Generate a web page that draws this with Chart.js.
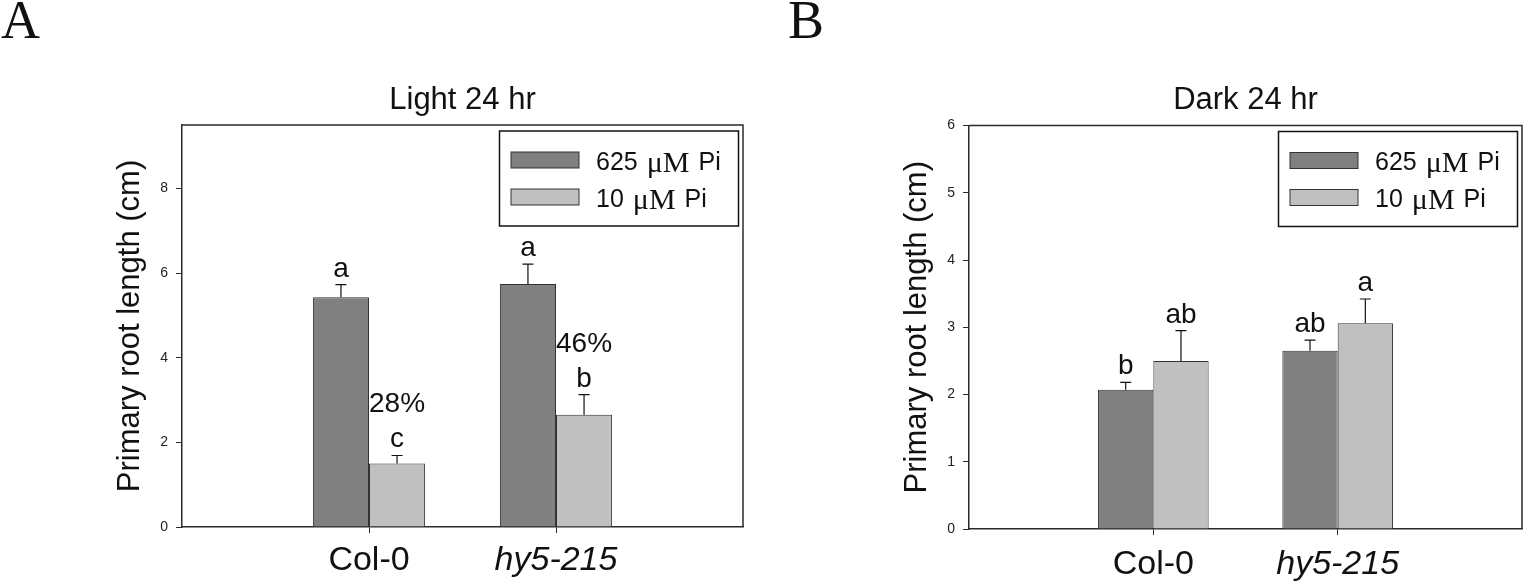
<!DOCTYPE html>
<html>
<head>
<meta charset="utf-8">
<title>Primary root length</title>
<script src="https://cdn.jsdelivr.net/npm/chart.js@4.4.1/dist/chart.umd.min.js"></script>
<style>
  html, body { margin: 0; padding: 0; background: #fff; width: 1535px; height: 586px; overflow: hidden; }
  .panel { position: absolute; top: 0; height: 586px; }
  #wrapA { left: 0; width: 767px; }
  #wrapB { left: 767px; width: 768px; }
  .tag { position: absolute; top: -7px; font-family: "Liberation Serif", "Times New Roman", serif; font-size: 54px; line-height: 54px; color: #111; }
</style>
</head>
<body>
<div class="panel" id="wrapA"><canvas id="chartA"></canvas></div>
<div class="panel" id="wrapB"><canvas id="chartB"></canvas></div>
<div class="tag" style="left:1px">A</div>
<div class="tag" style="left:788px">B</div>

<script>
// categories (empty slots at both ends keep the groups at 1/3 and 2/3)
const categories = ['', 'Col-0', 'hy5-215', ''];
const seriesNames = ['625 \u03BCM Pi', '10 \u03BCM Pi'];

// Light 24 hr
const light625 = [null, 5.43, 5.74, null];
const light625Err = [null, 0.30, 0.47, null];
const light10 = [null, 1.50, 2.65, null];
const light10Err = [null, 0.19, 0.48, null];
const light625Letters = ['', 'a', 'a', ''];
const light10Letters = ['', 'c', 'b', ''];
const light10Percent = ['', '28%', '46%', ''];
const lightTicks = [0, 2, 4, 6, 8];

// Dark 24 hr
const dark625 = [null, 2.07, 2.65, null];
const dark625Err = [null, 0.11, 0.16, null];
const dark10 = [null, 2.50, 3.06, null];
const dark10Err = [null, 0.45, 0.36, null];
const dark625Letters = ['', 'b', 'ab', ''];
const dark10Letters = ['', 'ab', 'a', ''];
const darkTicks = [0, 1, 2, 3, 4, 5, 6];

const DARK = '#808080';
const LIGHT = '#c0c0c0';
const LINE = '#2b2b2b';
const SANS = '"Liberation Sans", Arial, Helvetica, sans-serif';
const SERIF = '"Liberation Serif", "Times New Roman", serif';

// frame, error bars, letters and legend box
const decorPlugin = {
  id: 'decor',
  afterDatasetsDraw(chart) {
    const { ctx, chartArea: a } = chart;
    const y = chart.scales.y;
    ctx.save();

    // box around plot area
    ctx.strokeStyle = LINE;
    ctx.lineWidth = 1.5;
    ctx.beginPath();
    ctx.moveTo(a.left, a.top);
    ctx.lineTo(a.right, a.top);
    ctx.lineTo(a.right, a.bottom);
    ctx.stroke();

    chart.data.datasets.forEach((ds, i) => {
      const meta = chart.getDatasetMeta(i);
      meta.data.forEach((bar, j) => {
        const v = ds.data[j];
        if (v === null) return;
        const top = y.getPixelForValue(v + ds.errors[j]);
        ctx.strokeStyle = '#111';
        ctx.lineWidth = 1.2;
        ctx.beginPath();
        ctx.moveTo(bar.x, bar.y);
        ctx.lineTo(bar.x, top);
        ctx.moveTo(bar.x - 5.5, top);
        ctx.lineTo(bar.x + 5.5, top);
        ctx.stroke();

        ctx.fillStyle = '#111';
        ctx.font = '28px ' + SANS;
        ctx.textAlign = 'center';
        ctx.textBaseline = 'alphabetic';
        ctx.fillText(ds.letters[j], bar.x, top - 8);
        if (ds.percent && ds.percent[j]) {
          ctx.fillText(ds.percent[j], bar.x, top - 43);
        }
      });
    });

    // legend
    const bw = 239, bh = 95;
    const bx = a.right - 4.5 - bw, by = a.top + 6;
    ctx.strokeStyle = '#111';
    ctx.lineWidth = 1.5;
    ctx.strokeRect(bx, by, bw, bh);
    chart.data.datasets.forEach((ds, i) => {
      const sy = by + 21 + i * 37;
      ctx.fillStyle = ds.backgroundColor;
      ctx.fillRect(bx + 11.5, sy, 68, 16);
      ctx.strokeStyle = '#333';
      ctx.lineWidth = 1;
      ctx.strokeRect(bx + 11.5, sy, 68, 16);

      const parts = ds.label.split(' ');
      const ty = sy + 11;
      let tx = bx + 96.5;
      ctx.fillStyle = '#111';
      ctx.textAlign = 'left';
      ctx.textBaseline = 'middle';
      ctx.font = '25px ' + SANS;
      ctx.fillText(parts[0], tx, ty);
      tx += ctx.measureText(parts[0]).width + 9;
      ctx.font = '30px ' + SERIF;
      ctx.fillText(parts[1], tx, ty + 1);
      tx += ctx.measureText(parts[1]).width + 9;
      ctx.font = '25px ' + SANS;
      ctx.fillText(parts[2], tx, ty);
    });
    ctx.restore();
  }
};

function makeChart(id, opts) {
  return new Chart(document.getElementById(id), {
    type: 'bar',
    data: {
      labels: categories,
      datasets: [
        { label: seriesNames[0], data: opts.s1, errors: opts.e1, letters: opts.l1,
          backgroundColor: DARK, borderColor: '#333', borderWidth: 1 },
        { label: seriesNames[1], data: opts.s2, errors: opts.e2, letters: opts.l2, percent: opts.p2,
          backgroundColor: LIGHT, borderColor: '#333', borderWidth: 1 }
      ]
    },
    options: {
      responsive: true,
      maintainAspectRatio: false,
      animation: false,
      datasets: { bar: { categoryPercentage: 0.6, barPercentage: 1.0 } },
      layout: { padding: { left: 0, right: opts.padRight, top: 0, bottom: 0 } },
      plugins: {
        legend: { display: false },
        tooltip: { enabled: false },
        title: {
          display: true,
          text: opts.title,
          fullSize: false,
          color: '#111',
          font: { family: SANS, size: 31, weight: 'normal', lineHeight: 1 },
          padding: { top: 84.5, bottom: opts.titleBottom }
        }
      },
      scales: {
        x: {
          type: 'category',
          offset: false,
          afterFit: s => { s.height = opts.xHeight; },
          border: { display: true, color: LINE, width: 1.5 },
          grid: {
            offset: false,
            drawOnChartArea: false,
            tickLength: 6,
            color: c => (c.index === 1 || c.index === 2) ? LINE : 'rgba(0,0,0,0)'
          },
          ticks: {
            autoSkip: false,
            maxRotation: 0,
            padding: opts.xPad,
            color: '#111',
            font: c => ({ family: SANS, size: 34, lineHeight: 1, style: c.index === 2 ? 'italic' : 'normal' })
          }
        },
        y: {
          min: 0,
          max: opts.max,
          afterFit: s => { s.width = opts.yWidth; },
          afterBuildTicks: s => { s.ticks = opts.ticks.map(v => ({ value: v })); },
          border: { display: true, color: LINE, width: 1.5 },
          grid: { drawOnChartArea: false, tickLength: 6, color: LINE },
          ticks: { padding: 8, color: '#222', font: { family: SANS, size: 14 } },
          title: {
            display: true,
            text: 'Primary root length (cm)',
            color: '#111',
            font: { family: SANS, size: 31, lineHeight: 1 },
            padding: { top: opts.yTitleX - 15.5, bottom: 0 }
          }
        }
      }
    },
    plugins: [decorPlugin]
  });
}

makeChart('chartA', {
  title: 'Light 24 hr', max: 9.5, ticks: lightTicks,
  s1: light625, e1: light625Err, l1: light625Letters,
  s2: light10, e2: light10Err, l2: light10Letters, p2: light10Percent,
  yWidth: 182, padRight: 24, xHeight: 59, xPad: 11, titleBottom: 9.5, yTitleX: 130
});

makeChart('chartB', {
  title: 'Dark 24 hr', max: 6, ticks: darkTicks,
  s1: dark625, e1: dark625Err, l1: dark625Letters,
  s2: dark10, e2: dark10Err, l2: dark10Letters, p2: null,
  yWidth: 202, padRight: 3, xHeight: 57, xPad: 13, titleBottom: 10, yTitleX: 150.5
});
</script>
</body>
</html>
